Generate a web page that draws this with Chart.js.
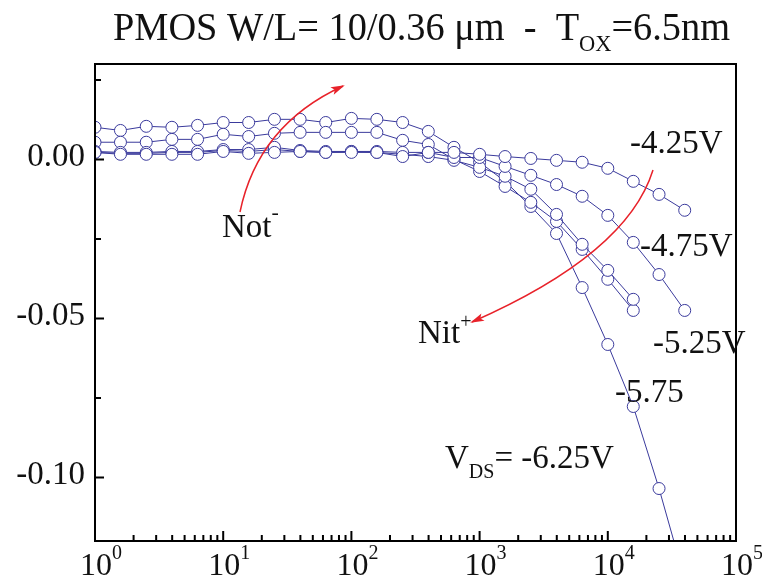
<!DOCTYPE html>
<html>
<head>
<meta charset="utf-8">
<script src="https://cdn.jsdelivr.net/npm/chart.js@4.4.1/dist/chart.umd.min.js"></script>
<style>
  html, body { margin: 0; padding: 0; background: #fff; }
  canvas { display: block; }
</style>
</head>
<body>
<canvas id="mycanvas" width="762" height="579"></canvas>
<script>
/** DATA */
// stress time (s)
var times = [1, 1.58, 2.51, 3.98, 6.31, 10, 15.8, 25.1, 39.8, 63.1, 100, 158, 251, 398,
             631, 1000, 1580, 2510, 3980, 6310, 10000, 15800, 25100, 39800];

var seriesNames = ['-4.25V', '-4.75V', '-5.25V', '-5.75V', '-6.25V'];

var vds425 = [0.0022, 0.0016, 0.0016, 0.0016, 0.0016, 0.0025, 0.0019, 0.0022, 0.0025, 0.0022, 0.0022, 0.0022,
              0.0009, 0.0022, 0.0022, 0.0016, 0.0009, 0.0003, -0.0003, -0.0009, -0.0028, -0.0069, -0.0110, -0.0160];
var vds475 = [0.0025, 0.0022, 0.0022, 0.0025, 0.0025, 0.0031, 0.0031, 0.0038, 0.0028, 0.0025, 0.0025, 0.0025,
              0.0022, 0.0022, 0.0006, 0.0006, -0.0022, -0.0050, -0.0079, -0.0116, -0.0176, -0.0261, -0.0362, -0.0475];
var vds525 = [0.0022, 0.0019, 0.0019, 0.0022, 0.0022, 0.0028, 0.0025, 0.0031, 0.0025, 0.0022, 0.0025, 0.0022,
              0.0016, 0.0009, -0.0003, -0.0025, -0.0053, -0.0094, -0.0173, -0.0267, -0.0349, -0.0440];
var vds575 = [0.0054, 0.0054, 0.0054, 0.0063, 0.0063, 0.0079, 0.0072, 0.0082, 0.0085, 0.0085, 0.0085, 0.0085,
              0.0060, 0.0047, 0.0000, -0.0038, -0.0085, -0.0135, -0.0195, -0.0283, -0.0377, -0.0475];
var vds625 = [0.0101, 0.0091, 0.0104, 0.0101, 0.0107, 0.0116, 0.0116, 0.0126, 0.0126, 0.0116, 0.0129, 0.0126,
              0.0116, 0.0088, 0.0038, -0.0009, -0.0069, -0.0148, -0.0233, -0.0403, -0.0582, -0.0777, -0.1035, -0.1321];

var yTickValues = [0, -0.05, -0.10];
var yTickLabels = ['0.00', '-0.05', '-0.10'];
var yMinorTicks = [0.025, -0.025, -0.075];
var xDecades = [1, 10, 100, 1000, 10000, 100000];
var xDecadeExp = ['0', '1', '2', '3', '4', '5'];

var lineColor = '#3a3a9c';
var serif = '"Liberation Serif", "Times New Roman", serif';

function toPoints(vals) {
    var pts = [];
    for (var i = 0; i < vals.length; i++) {
        pts.push({x: times[i], y: vals[i]});
    }
    return pts;
}

// draws a row of text pieces: [text, size, dy]
function drawRich(ctx, x, y, parts) {
    ctx.textAlign = 'left';
    ctx.textBaseline = 'alphabetic';
    for (var i = 0; i < parts.length; i++) {
        ctx.font = parts[i][1] + 'px ' + serif;
        ctx.fillText(parts[i][0], x, y + parts[i][2]);
        x += ctx.measureText(parts[i][0]).width;
    }
}

function richWidth(ctx, parts) {
    var w = 0;
    for (var i = 0; i < parts.length; i++) {
        ctx.font = parts[i][1] + 'px ' + serif;
        w += ctx.measureText(parts[i][0]).width;
    }
    return w;
}

function drawArrow(ctx, p0, c, p2) {
    ctx.save();
    ctx.strokeStyle = '#e8222a';
    ctx.fillStyle = '#e8222a';
    ctx.lineWidth = 1.5;
    ctx.beginPath();
    ctx.moveTo(p0[0], p0[1]);
    ctx.quadraticCurveTo(c[0], c[1], p2[0], p2[1]);
    ctx.stroke();
    var a = Math.atan2(p2[1] - c[1], p2[0] - c[0]);
    ctx.translate(p2[0], p2[1]);
    ctx.rotate(a);
    ctx.beginPath();
    ctx.moveTo(2, 0);
    ctx.lineTo(-12, -4);
    ctx.lineTo(-9, 0);
    ctx.lineTo(-12, 4);
    ctx.closePath();
    ctx.fill();
    ctx.restore();
}

/** FRAME, TICKS AND NOTES */
var framePlugin = {
    id: 'frame',
    afterDraw: function(chart) {
        var ctx = chart.ctx;
        var area = chart.chartArea;
        var xs = chart.scales.x, ys = chart.scales.y;
        ctx.save();
        ctx.fillStyle = '#111';
        ctx.strokeStyle = '#000';

        // box
        ctx.lineWidth = 2;
        ctx.strokeRect(area.left, area.top, area.right - area.left, area.bottom - area.top);

        // y ticks (inside)
        ctx.lineWidth = 2;
        ctx.beginPath();
        yTickValues.forEach(function(v) {
            var py = ys.getPixelForValue(v);
            ctx.moveTo(area.left, py); ctx.lineTo(area.left + 9, py);
        });
        yMinorTicks.forEach(function(v) {
            var py = ys.getPixelForValue(v);
            ctx.moveTo(area.left, py); ctx.lineTo(area.left + 6, py);
        });
        // x ticks (inside)
        xDecades.forEach(function(d, k) {
            var px = xs.getPixelForValue(d);
            ctx.moveTo(px, area.bottom); ctx.lineTo(px, area.bottom - 10);
            if (k < xDecades.length - 1) {
                for (var m = 2; m < 10; m++) {
                    var pm = xs.getPixelForValue(d * m);
                    ctx.moveTo(pm, area.bottom); ctx.lineTo(pm, area.bottom - 6);
                }
            }
        });
        ctx.stroke();

        // y labels
        ctx.font = '33px ' + serif;
        ctx.textAlign = 'right';
        ctx.textBaseline = 'middle';
        yTickValues.forEach(function(v, k) {
            ctx.fillText(yTickLabels[k], area.left - 10, ys.getPixelForValue(v) - 2);
        });

        // x labels 10^n
        xDecades.forEach(function(d, k) {
            var px = xs.getPixelForValue(d);
            ctx.font = '32px ' + serif;
            var w = ctx.measureText('10').width;
            drawRich(ctx, px - w / 2 + 1, area.bottom + 34, [['10', 32, 0], [xDecadeExp[k], 20, -16]]);
        });

        // title, condensed like the original
        var tparts = [['PMOS W/L= 10/0.36 \u03bcm  -  T', 41, 0], ['OX', 24, 11], ['=6.5nm', 41, 0]];
        var tw = richWidth(ctx, tparts);
        ctx.save();
        ctx.translate(113, 40);
        ctx.scale(617 / tw, 1);
        drawRich(ctx, 0, 0, tparts);
        ctx.restore();

        // curve labels
        drawRich(ctx, 630, 153, [[seriesNames[0], 33, 0]]);
        drawRich(ctx, 640, 256, [[seriesNames[1], 33, 0]]);
        drawRich(ctx, 653, 353, [[seriesNames[2], 33, 0]]);
        drawRich(ctx, 615, 402, [['-5.75', 33, 0]]);
        drawRich(ctx, 445, 468, [['V', 33, 0], ['DS', 20, 10], ['= -6.25V', 33, 0]]);
        drawRich(ctx, 222, 237, [['Not', 33, 0], ['-', 22, -18]]);
        drawRich(ctx, 418, 343, [['Nit', 33, 0], ['+', 20, -15]]);

        // arrows
        drawArrow(ctx, [240, 212], [258, 125], [343, 86]);
        drawArrow(ctx, [653, 170], [627, 254], [472, 322]);

        ctx.restore();
    }
};

var allSeries = [vds425, vds475, vds525, vds575, vds625];
var datasets = allSeries.map(function(vals, k) {
    return {
        label: seriesNames[k],
        data: toPoints(vals),
        borderColor: lineColor,
        borderWidth: 1,
        backgroundColor: '#fff',
        pointBackgroundColor: '#fff',
        pointBorderColor: lineColor,
        pointBorderWidth: 1,
        pointRadius: 6,
        tension: 0
    };
});

var chart1 = new Chart(document.getElementById('mycanvas'), {
    type: 'line',
    data: {datasets: datasets},
    options: {
        responsive: false,
        animation: false,
        layout: {padding: {left: 95, top: 64, right: 26, bottom: 38}},
        plugins: {legend: {display: false}, tooltip: {enabled: false}},
        scales: {
            x: {type: 'logarithmic', min: 1, max: 100000, display: false},
            y: {type: 'linear', min: -0.12, max: 0.03, display: false}
        }
    },
    plugins: [framePlugin]
});
</script>
</body>
</html>
